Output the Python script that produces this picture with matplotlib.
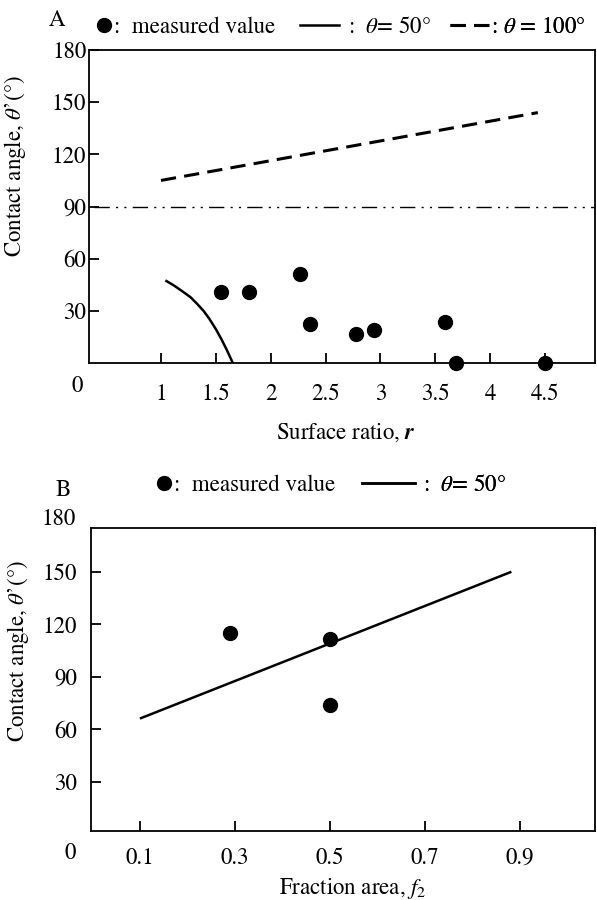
import matplotlib
matplotlib.use('Agg')
import matplotlib.pyplot as plt
from matplotlib.lines import Line2D
import matplotlib.transforms as mtransforms

# ---- data ----
# panel A: contact angle vs surface ratio r
r_measured = [1.55, 1.80, 2.27, 2.36, 2.78, 2.94, 3.585, 3.69, 4.5]
angle_measured_a = [40.7, 40.7, 51.4, 22.2, 16.7, 19.1, 23.4, 0, 0]
r_theta50 = [1.04, 1.12, 1.2, 1.27, 1.33, 1.39, 1.44, 1.5, 1.55, 1.6, 1.655]
angle_theta50_a = [47.5, 44.5, 41, 37.8, 34, 29.8, 25.5, 19.5, 13.8, 7.5, 0]
r_theta100 = [1.0, 4.435]
angle_theta100 = [105, 144]
angle_ref = 90
r_ticks = [1, 1.5, 2, 2.5, 3, 3.5, 4, 4.5]
r_ticklabels = ['1', '1.5', '2', '2.5', '3', '3.5', '4', '4.5']

# panel B: contact angle vs fraction area f2
f2_measured = [0.29, 0.5, 0.5]
angle_measured_b = [115.2, 111.4, 74.2]
f2_theta50 = [0.1, 0.882]
angle_theta50_b = [66.2, 150]
f2_ticks = [0.1, 0.3, 0.5, 0.7, 0.9]
angle_ticks = [30, 60, 90, 120, 150, 180]

FS = 16.5
plt.rcParams['font.family'] = ['STIXGeneral', 'DejaVu Serif']
plt.rcParams['mathtext.fontset'] = 'stix'
plt.rcParams['font.size'] = FS

fig = plt.figure(figsize=(5.97, 9), dpi=100)
W, H = 597, 900


def px_axes(left, top, right, bottom):
    return fig.add_axes([left / W, 1 - bottom / H, (right - left) / W, (bottom - top) / H])


def style_axes(ax, ypad, xpad):
    for s in ax.spines.values():
        s.set_linewidth(1.3)
    ax.tick_params(direction='in', length=7, width=1.3, top=False, right=False)
    ax.tick_params(axis='y', pad=ypad)
    ax.tick_params(axis='x', pad=xpad)


def add_key(ax, handle, label, x, y, hlen, tpad):
    leg = ax.legend([handle], [label], loc='center left', bbox_to_anchor=(x, y),
                    frameon=False, handlelength=hlen, handletextpad=tpad,
                    borderpad=0, borderaxespad=0, fontsize=FS)
    ax.add_artist(leg)


# ---------------- panel A ----------------
axA = px_axes(89, 50, 595, 363)
style_axes(axA, 2, 15)
axA.plot(r_theta100, angle_theta100, color='black', lw=2.2, linestyle=(0, (5, 2.7)))
axA.plot(r_theta50, angle_theta50_a, color='black', lw=1.8, solid_capstyle='butt')
axA.axhline(angle_ref, xmin=0.01, color='black', lw=1.0,
            linestyle=(0, (11, 4.5, 1.5, 4.5, 1.5, 4.5)))
axA.plot(r_measured, angle_measured_a, 'o', color='black', ms=10, clip_on=False, zorder=5)
axA.set_xlim(0.344, 4.956)
axA.set_ylim(0, 180)
axA.set_xticks(r_ticks)
axA.set_xticklabels(r_ticklabels)
axA.set_yticks(angle_ticks)
axA.set_xlabel(r'Surface ratio, $\mathbfit{r}$')
axA.xaxis.set_label_coords(0.507, -0.185)
axA.set_ylabel("Contact angle, $\\theta$\u2019(\u00b0)")
axA.yaxis.set_label_coords(-0.12, 0.63)
axA.text(-0.012, -0.076, '0', transform=axA.transAxes, ha='right', va='center')
axA.text(-0.063, 1.096, 'A', transform=axA.transAxes, ha='center', va='center')

add_key(axA, Line2D([], [], marker='o', ls='none', color='black', ms=10),
        ':  measured value', 0.0168, 1.073, 0.6, 0.1)
add_key(axA, Line2D([], [], color='black', lw=1.8),
        ':  $\\theta$= 50\u00b0', 0.417, 1.073, 1.71, 0.4)
add_key(axA, Line2D([], [], color='black', lw=2.2, linestyle=(0, (5, 2.7))),
        ': $\\theta$ = 100\u00b0', 0.713, 1.073, 1.8, 0.0)

# ---------------- panel B ----------------
axB = px_axes(91, 528, 595, 831)
style_axes(axB, 10, 12)
axB.plot(f2_theta50, angle_theta50_b, color='black', lw=1.8, solid_capstyle='butt')
axB.plot(f2_measured, angle_measured_b, 'o', color='black', ms=10, zorder=5)
axB.set_xlim(-0.003, 1.058)
axB.set_ylim(2, 175)
axB.set_xticks(f2_ticks)
axB.set_xticklabels([f'{v:.1f}' for v in f2_ticks])
axB.set_yticks([t for t in angle_ticks if t < 175])
axB.set_xlabel(r'Fraction area, $f_2$')
axB.xaxis.set_label_coords(0.52, -0.149)
axB.set_ylabel("Contact angle, $\\theta$\u2019(\u00b0)")
axB.yaxis.set_label_coords(-0.12, 0.594)
tr = mtransforms.blended_transform_factory(axB.transAxes, axB.transData)
axB.text(-0.03, 180, '180', transform=tr, ha='right', va='center')
axB.text(-0.03, -0.073, '0', transform=axB.transAxes, ha='right', va='center')
axB.text(-0.056, 1.125, 'B', transform=axB.transAxes, ha='center', va='center')

add_key(axB, Line2D([], [], marker='o', ls='none', color='black', ms=10),
        ':  measured value', 0.132, 1.142, 0.6, 0.1)
add_key(axB, Line2D([], [], color='black', lw=1.8),
        ':  $\\theta$= 50\u00b0', 0.538, 1.142, 2.3, 0.36)

fig.savefig('out.png', dpi=100)
